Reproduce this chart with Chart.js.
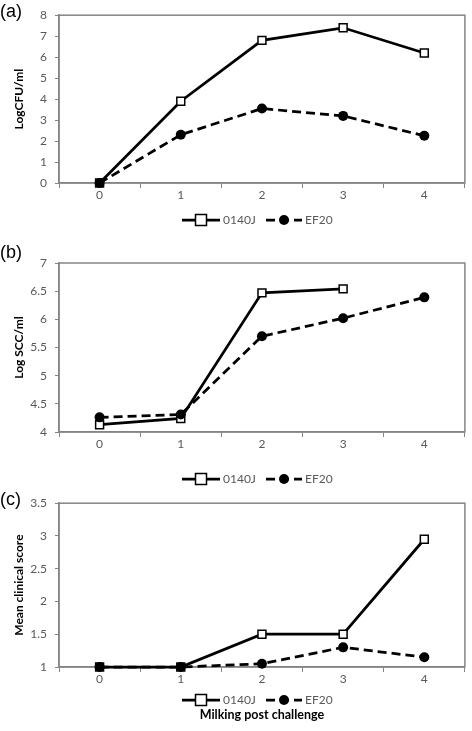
<!DOCTYPE html>
<html>
<head>
<meta charset="utf-8">
<script src="https://cdn.jsdelivr.net/npm/chart.js@4.4.1/dist/chart.umd.min.js"></script>
<style>
  html, body { margin: 0; padding: 0; background: #fff; }
  #page { position: relative; width: 472px; height: 731px; overflow: hidden; }
  .panel { position: absolute; left: 0; width: 472px; }
  .tag { position: absolute; left: 0; font: 18px "Liberation Sans", Arial, sans-serif; line-height: 1; color: #000; }
</style>
</head>
<body>
<div id="page">
  <div class="panel" style="top:0;height:236px"><canvas id="cA"></canvas></div>
  <div class="panel" style="top:236px;height:252px"><canvas id="cB"></canvas></div>
  <div class="panel" style="top:488px;height:243px"><canvas id="cC"></canvas></div>
  <div class="tag" style="top:2px">(a)</div>
  <div class="tag" style="top:243px">(b)</div>
  <div class="tag" style="top:490px">(c)</div>
</div>
<script>
// milking post challenge
const milkings = ['0', '1', '2', '3', '4'];
const seriesNames = ['0140J', 'EF20'];

// (a) bacterial count
const cfu0140J = [0, 3.9, 6.8, 7.4, 6.2];
const cfuEF20 = [0, 2.3, 3.55, 3.2, 2.25];
const cfuTicks = [0, 1, 2, 3, 4, 5, 6, 7, 8];

// (b) somatic cell count
const scc0140J = [4.13, 4.24, 6.47, 6.54, null];
const sccEF20 = [4.26, 4.31, 5.70, 6.02, 6.39];
const sccTicks = [4, 4.5, 5, 5.5, 6, 6.5, 7];

// (c) clinical score
const score0140J = [1, 1, 1.5, 1.5, 2.95];
const scoreEF20 = [1, 1, 1.05, 1.3, 1.15];
const scoreTicks = [1, 1.5, 2, 2.5, 3, 3.5];

const GREY = '#595959';
const FRAME = '#858585';
const FONT = 'Lato, "Open Sans", sans-serif';

// plot frame + excel style legend
const framePlugin = {
    id: 'frame',
    beforeDatasetsDraw(chart) {
        const a = chart.chartArea, ctx = chart.ctx;
        ctx.save();
        ctx.strokeStyle = FRAME;
        ctx.lineWidth = 1.5;
        ctx.strokeRect(a.left, a.top, a.right - a.left, a.bottom - a.top);
        ctx.restore();
    },
    afterDraw(chart) {
        const opts = chart.options.plugins.frame;
        if (!opts) return;
        const ctx = chart.ctx, y = opts.y;
        const items = [
            { x0: 182, x1: 220, dash: [], square: true },
            { x0: 266, x1: 302, dash: [9, 5], square: false }
        ];
        ctx.save();
        items.forEach((it, i) => {
            ctx.strokeStyle = '#000';
            ctx.lineWidth = 2.75;
            ctx.setLineDash(it.dash);
            ctx.beginPath();
            ctx.moveTo(it.x0, y);
            ctx.lineTo(it.x1, y);
            ctx.stroke();
            ctx.setLineDash([]);
            const cx = (it.x0 + it.x1) / 2;
            if (it.square) {
                ctx.fillStyle = '#fff';
                ctx.lineWidth = 1.5;
                ctx.fillRect(cx - 5.5, y - 5.5, 11, 11);
                ctx.strokeRect(cx - 5.5, y - 5.5, 11, 11);
            } else {
                ctx.fillStyle = '#000';
                ctx.beginPath();
                ctx.arc(cx, y, 5, 0, Math.PI * 2);
                ctx.fill();
            }
            ctx.fillStyle = GREY;
            ctx.font = '12px ' + FONT;
            ctx.textBaseline = 'middle';
            ctx.textAlign = 'left';
            ctx.fillText(seriesNames[i], it.x1 + 3, y);
        });
        ctx.restore();
    }
};

function makeChart(id, a, b, ticks, yTitle, layout) {
    const ctx = document.getElementById(id);
    return new Chart(ctx, {
        type: 'line',
        data: {
            labels: milkings,
            datasets: [
                {
                    label: seriesNames[0], data: a, order: 1, clip: false,
                    borderColor: '#000', borderWidth: 2.75,
                    pointStyle: 'rect', pointRadius: 5.6, pointBorderWidth: 1.5,
                    pointBackgroundColor: '#fff', pointBorderColor: '#000',
                    spanGaps: false
                },
                {
                    label: seriesNames[1], data: b, order: 0, clip: false,
                    borderColor: '#000', borderWidth: 2.75, borderDash: [9, 5],
                    pointStyle: 'circle', pointRadius: 5, pointBorderWidth: 0,
                    pointBackgroundColor: '#000'
                }
            ]
        },
        options: {
            responsive: true,
            maintainAspectRatio: false,
            animation: false,
            layout: { padding: { top: layout.top, left: 12, right: 1, bottom: layout.bottom } },
            plugins: {
                legend: { display: false },
                tooltip: { enabled: false },
                frame: { y: layout.legendY }
            },
            elements: { line: { tension: 0 } },
            scales: {
                x: {
                    offset: true,
                    grid: { offset: true, drawOnChartArea: false, color: FRAME, tickLength: 5, lineWidth: 1 },
                    border: { color: FRAME, width: 1.5 },
                    ticks: { color: GREY, font: { family: FONT, size: 12 }, padding: 0 },
                    title: layout.xTitle
                        ? { display: true, text: layout.xTitle, color: '#000', font: { family: FONT, size: 12.5, weight: 'bold' }, padding: 0 }
                        : { display: false },
                    afterFit: s => { s.height = layout.xh; }
                },
                y: {
                    min: ticks[0],
                    max: ticks[ticks.length - 1],
                    afterBuildTicks: s => { s.ticks = ticks.map(v => ({ value: v })); },
                    grid: { drawOnChartArea: false, color: FRAME, tickLength: 4 },
                    border: { color: FRAME, width: 1.5 },
                    ticks: { color: GREY, font: { family: FONT, size: 12 }, padding: 8, callback: v => String(v) },
                    title: { display: true, text: yTitle, color: '#000', font: { family: FONT, size: 12, weight: 'bold' }, padding: 0 },
                    afterFit: s => { s.width = 47; }
                }
            }
        },
        plugins: [framePlugin]
    });
}

makeChart('cA', cfu0140J, cfuEF20, cfuTicks, 'LogCFU/ml', { top: 15, bottom: 33, xh: 20, legendY: 220 });
makeChart('cB', scc0140J, sccEF20, sccTicks, 'Log SCC/ml', { top: 27, bottom: 36, xh: 20, legendY: 243 });
makeChart('cC', score0140J, scoreEF20, scoreTicks, 'Mean clinical score', { top: 11, bottom: 9, xh: 55, legendY: 212, xTitle: 'Milking post challenge' });
</script>
</body>
</html>
